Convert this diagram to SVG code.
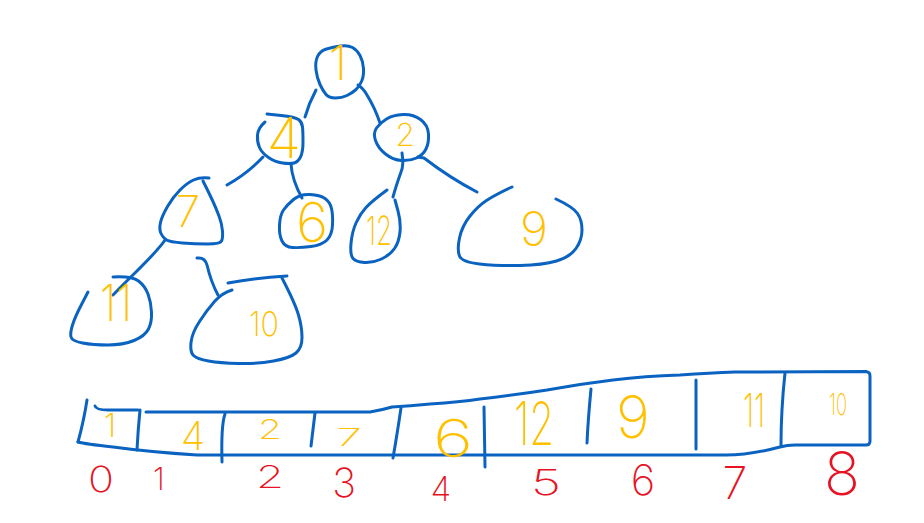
<svg xmlns="http://www.w3.org/2000/svg" width="924" height="523" viewBox="0 0 924 523">
<style>
.s{fill:none;stroke:#0B63C1;stroke-width:3;stroke-linecap:round;stroke-linejoin:round}
.v{font-family:Inter,"Liberation Sans",Arial,sans-serif;font-weight:200;fill:#FFC000;text-anchor:middle}
.i{font-family:Inter,"Liberation Sans",Arial,sans-serif;font-weight:200;fill:#E71224;text-anchor:middle}
</style>
<rect width="924" height="523" fill="#ffffff"/>
<g id="connectors">
<path class="s" d="M316,90 Q309,103 305,117"/>
<path class="s" d="M358,85 Q363,88 367,95 Q375,108 380,123"/>
<path class="s" d="M263,157 Q248,173 227,185"/>
<path class="s" d="M291,164 Q292,180 302,198"/>
<path class="s" d="M402,153 Q404,165 401,172 Q396,186 393,197"/>
<path class="s" d="M418,157 L424,158 Q450,178 477,192"/>
<path class="s" d="M165,240 C155,255 135,272 113,295"/>
<path class="s" d="M197,258 Q205,257 207,265 Q211,282 218,295"/>
</g>
<g id="node-1">
<path class="s" d="M316,70 Q315,62 317.5,56.5 Q320,51 326.5,49 Q333,47 340.5,46 Q348,45 352.5,47.5 Q357,50 360,55.5 Q363,61 363.5,68.5 Q364,76 361.5,81.5 Q359,87 355.5,90 Q352,93 347,95.5 Q342,98 335.5,98 Q329,98 326,94.5 Q323,91 320,84.5 Q317,78 316,70 Z"/>
<text class="v" x="338" y="80" font-size="48">1</text>
</g>
<g id="node-4">
<path class="s" d="M265,122 Q258,128 257.5,135 Q257,142 259.5,147.5 Q262,153 268.5,157.5 Q275,162 282.5,163 Q290,164 294,163 Q298,162 300.5,157 Q303,152 303,142 Q303,132 302.5,127 Q302,122 298.5,119.5 Q295,117 281,115.5 L267,114"/>
<text class="v" x="284" y="158" font-size="56">4</text>
</g>
<g id="node-2">
<path class="s" d="M376.5,128 Q380,123 386.5,119 Q393,115 403,114.5 Q413,114 420.5,119.5 Q428,125 428.5,134 Q429,143 426,149 Q423,155 416.5,158 Q410,161 401.5,160.5 Q393,160 385.5,154 Q378,148 375.5,140.5 Q373,133 376.5,128 Z"/>
<text class="v" x="405" y="146" font-size="32">2</text>
</g>
<g id="node-7">
<path class="s" d="M203,181 Q209,193 212.5,200.5 Q216,208 219,216 Q222,224 222.5,231 Q223,238 221.5,241 Q220,244 207.5,244 Q195,244 182.5,243 Q170,242 166.5,240 Q163,238 161,233.5 Q159,229 160.5,222.5 Q162,216 167.5,206.5 Q173,197 180,190 Q187,183 193.5,180 Q200,177 209,178"/>
<text class="v" x="188" y="227" font-size="44">7</text>
</g>
<g id="node-6">
<path class="s" d="M283.5,210 Q287,205 293.5,199.5 Q300,194 310,194.5 Q320,195 325,198.5 Q330,202 331.5,208.5 Q333,215 332.5,225 Q332,235 327,240 Q322,245 311,246.5 Q300,248 292.5,247.5 Q285,247 282,241 Q279,235 279.5,225 Q280,215 283.5,210 Z"/>
<text class="v" x="312" y="242" font-size="55">6</text>
</g>
<g id="node-12">
<path class="s" d="M387,190 Q372,201 366,207.5 Q360,214 356,223 Q352,232 351,243.5 Q350,255 353,258.5 Q356,262 364.5,262.5 Q373,263 381.5,259 Q390,255 394.5,248.5 Q399,242 400,232 Q401,222 398,211 L395,200"/>
<text class="v" x="379" y="245" font-size="40" textLength="26" lengthAdjust="spacingAndGlyphs">12</text>
</g>
<g id="node-9">
<path class="s" d="M512,187 Q495,195 486.5,200.5 Q478,206 470,216 Q462,226 459.5,238 Q457,250 459.5,256 Q462,262 479.5,264 Q497,266 520,265.5 Q543,265 556.5,261 Q570,257 576,248.5 Q582,240 582,230 Q582,220 577.5,213.5 Q573,207 556,199"/>
<text class="v" x="534" y="246" font-size="48">9</text>
</g>
<g id="node-11">
<path class="s" d="M113,277 Q132,276 138.5,281 Q145,286 148,294 Q151,302 151.5,312 Q152,322 148.5,329 Q145,336 134,340.5 Q123,345 108,345 Q93,345 82.5,343 Q72,341 71,337 Q70,333 72.5,325 Q75,317 81.5,304.5 L88,292"/>
<text class="v" x="116" y="321" font-size="50" textLength="32" lengthAdjust="spacingAndGlyphs">11</text>
</g>
<g id="node-10">
<path class="s" d="M228,283 Q255,278 287,276"/>
<path class="s" d="M232,290 Q222,293 214.5,301.5 Q207,310 199.5,321.5 Q192,333 191,342.5 Q190,352 193.5,355.5 Q197,359 208.5,361 Q220,363 238.5,363.5 Q257,364 273.5,361 Q290,358 296,353 Q302,348 302,337.5 Q302,327 298.5,315 Q295,303 282,278"/>
<text class="v" x="264" y="336" font-size="34" textLength="30" lengthAdjust="spacingAndGlyphs">10</text>
</g>
<g id="array">
<path class="s" d="M87,400 Q84,420 78,442"/>
<path class="s" d="M95,406 Q96,410 108,410 L138,410"/>
<path class="s" d="M146,412 L370,412 Q382,410 392,407 Q410,406 430,404 Q460,402 480,399 Q515,395 547,390 Q580,384 613,380 Q645,376 680,375 Q710,373 735,372 L866,371.5 Q870,372 870,376 L870,441 Q870,445 866,445 L795,445 Q787,445 780,447 Q750,455 726,455 L197,455 Q150,452 113,447 Q85,444 78,442"/>
<path class="s" d="M140,410 Q138,430 137,450"/>
<path class="s" d="M225,414 Q221,425 222,462"/>
<path class="s" d="M315,413 Q313,430 311,446"/>
<path class="s" d="M401,408 Q397,435 393,458"/>
<path class="s" d="M484,407 L485,467"/>
<path class="s" d="M591,389 Q588,420 587,443"/>
<path class="s" d="M696,380 L696,449"/>
<path class="s" d="M785,373 Q781,410 781,445"/>
</g>
<g id="cell-0"><text class="v" x="110" y="437" font-size="33">1</text><text class="i" x="101" y="492" font-size="36" textLength="26" lengthAdjust="spacingAndGlyphs">0</text></g>
<g id="cell-1"><text class="v" x="193" y="450" font-size="40">4</text><text class="i" x="159" y="490" font-size="31">1</text></g>
<g id="cell-2"><text class="v" x="270" y="439" font-size="27" textLength="24" lengthAdjust="spacingAndGlyphs">2</text><text class="i" x="270" y="488" font-size="31" textLength="28" lengthAdjust="spacingAndGlyphs">2</text></g>
<g id="cell-3"><text class="v" x="349" y="446" font-size="24" textLength="26" lengthAdjust="spacingAndGlyphs">7</text><text class="i" x="344" y="497" font-size="40">3</text></g>
<g id="cell-4"><text class="v" x="453" y="457" font-size="52" textLength="40" lengthAdjust="spacingAndGlyphs">6</text><text class="i" x="441" y="501" font-size="34">4</text></g>
<g id="cell-5"><text class="v" x="534" y="445" font-size="60" textLength="40" lengthAdjust="spacingAndGlyphs">12</text><text class="i" x="546" y="495" font-size="35" textLength="30" lengthAdjust="spacingAndGlyphs">5</text></g>
<g id="cell-6"><text class="v" x="633" y="438" font-size="58">9</text><text class="i" x="643" y="495" font-size="42">6</text></g>
<g id="cell-7"><text class="v" x="754" y="427" font-size="46" textLength="22" lengthAdjust="spacingAndGlyphs">11</text><text class="i" x="735" y="499" font-size="45">7</text></g>
<g id="cell-8"><text class="v" x="838" y="415" font-size="30" textLength="18" lengthAdjust="spacingAndGlyphs">10</text><text class="i" x="842" y="495" font-size="60" textLength="36" lengthAdjust="spacingAndGlyphs">8</text></g>
</svg>
